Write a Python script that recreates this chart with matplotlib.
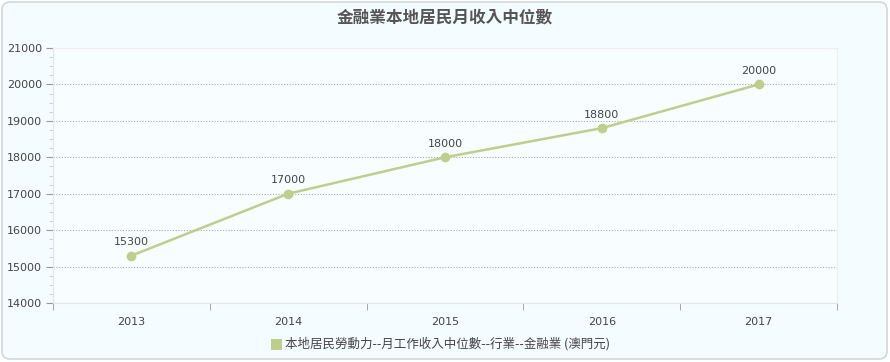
import numpy as np
import matplotlib
matplotlib.use("Agg")
import matplotlib.pyplot as plt
from matplotlib.patches import FancyBboxPatch
from matplotlib.ticker import MultipleLocator

plt.rcParams['font.family'] = ['Noto Sans CJK TC', 'DejaVu Sans']

# data
years = ['2013', '2014', '2015', '2016', '2017']
median_income = [15300, 17000, 18000, 18800, 20000]
title = '金融業本地居民月收入中位數'
series_name = '本地居民勞動力--月工作收入中位數--行業--金融業 (澳門元)'

W, H = 890, 362
fig = plt.figure(figsize=(W / 100, H / 100), dpi=100)
fig.patch.set_facecolor('white')

# background axes with the rounded outer box
bg = fig.add_axes([0, 0, 1, 1], zorder=-1)
bg.set_xlim(0, W)
bg.set_ylim(H, 0)
bg.axis('off')
bg.add_patch(FancyBboxPatch((2, 2), W - 5, H - 5,
                            boxstyle="round,pad=0,rounding_size=8",
                            facecolor='#f5fcff', edgecolor='#cfd8dc', linewidth=1.2))

left, right, top, bottom = 53, 837, 48, 303
ax = fig.add_axes([left / W, 1 - bottom / H, (right - left) / W, (bottom - top) / H])
ax.set_facecolor('#f8fdff')

x = np.arange(len(years))
color = '#bccf8c'
ax.plot(x, median_income, color=color, lw=1.8, marker='o', ms=6,
        markeredgecolor=color, zorder=3)
for xi, v in zip(x, median_income):
    ax.annotate(str(v), (xi, v), xytext=(0, 6), textcoords='offset points',
                ha='center', va='bottom', fontsize=8, color='#444444',
                family='DejaVu Sans')

ax.set_xlim(-0.5, len(years) - 0.5)
ax.set_ylim(14000, 21000)
ax.yaxis.set_major_locator(MultipleLocator(1000))
ax.yaxis.set_minor_locator(MultipleLocator(250))
ax.set_xticks(x)
ax.set_xticklabels(years)
ax.set_xticks(np.arange(-0.5, len(years)), minor=True)
ax.tick_params(axis='x', which='major', length=0, pad=10, labelsize=8, labelcolor='#444444')
ax.tick_params(axis='x', which='minor', length=5, color='#999999', direction='out')
ax.tick_params(axis='y', which='major', length=5, color='#999999', labelsize=8,
               labelcolor='#444444', pad=3)
ax.tick_params(axis='y', which='minor', length=3, color='#cccccc')
for lab in ax.get_xticklabels() + ax.get_yticklabels():
    lab.set_family('DejaVu Sans')

ax.grid(axis='y', which='major', color='#aaaaaa', linestyle=(0, (1, 1.5)), lw=0.8)
for s in ['top', 'right']:
    ax.spines[s].set_color('#eeeeee')
ax.spines['left'].set_color('#e0e6ea')
ax.spines['bottom'].set_color('#e0e6ea')

bg.text(445, 17, title, ha='center', va='center', fontsize=12,
        fontweight='bold', color='#555555')

# legend
bg.add_patch(plt.Rectangle((271, 339), 11, 11, facecolor=color, edgecolor='none'))
bg.text(285, 344, series_name, ha='left', va='center',
        fontsize=9, color='#444444')

fig.savefig('out.png', dpi=100, facecolor=fig.get_facecolor())
